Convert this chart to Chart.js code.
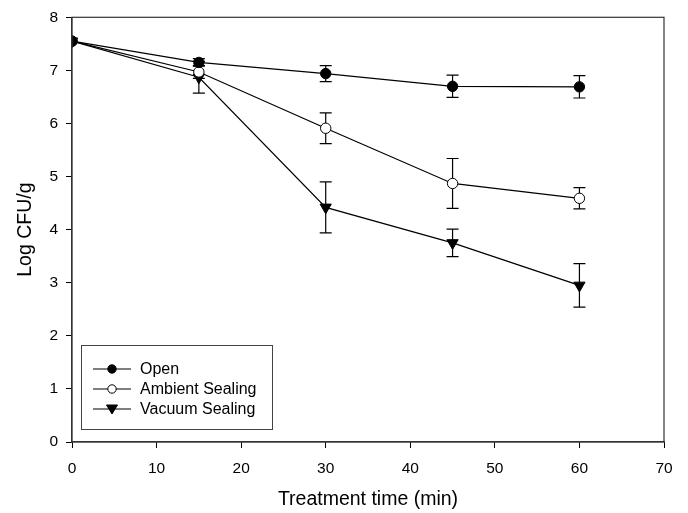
<!DOCTYPE html>
<html>
<head>
<meta charset="utf-8">
<script src="https://cdn.jsdelivr.net/npm/chart.js@4/dist/chart.umd.min.js"></script>
<style>
  html, body { margin: 0; padding: 0; background: #fff; }
  #wrap { width: 688px; height: 513px; }
</style>
</head>
<body>
<div id="wrap"><canvas id="c" width="688" height="513"></canvas></div>
<script>
const times = [0, 15, 30, 45, 60];
const openVals = [7.55, 7.15, 6.94, 6.70, 6.69];
const openErr = [0, 0.07, 0.15, 0.21, 0.21];
const ambientVals = [7.55, 6.97, 5.91, 4.87, 4.59];
const ambientErr = [0, 0.12, 0.29, 0.47, 0.20];
const vacuumVals = [7.55, 6.87, 4.42, 3.75, 2.95];
const vacuumErr = [0, 0.30, 0.48, 0.26, 0.41];
const seriesNames = ['Open', 'Ambient Sealing', 'Vacuum Sealing'];
const xTicks = [0, 10, 20, 30, 40, 50, 60, 70];
const yTicks = [0, 1, 2, 3, 4, 5, 6, 7, 8];

const FONT = "'Liberation Sans', Arial, sans-serif";

function pts(vals) { return times.map((t, i) => ({ x: t, y: vals[i] })); }

const errorBars = {
  id: 'errorBars',
  beforeDatasetsDraw(chart) {
    const ctx = chart.ctx;
    const xs = chart.scales.x, ys = chart.scales.y;
    ctx.save();
    ctx.strokeStyle = '#000';
    ctx.lineWidth = 1.2;
    chart.data.datasets.forEach(ds => {
      ds.data.forEach((p, i) => {
        const e = ds.errors[i];
        if (!e) return;
        const px = xs.getPixelForValue(p.x);
        const top = ys.getPixelForValue(p.y + e);
        const bot = ys.getPixelForValue(p.y - e);
        const cap = 6;
        ctx.beginPath();
        ctx.moveTo(px, top); ctx.lineTo(px, bot);
        ctx.moveTo(px - cap, top); ctx.lineTo(px + cap, top);
        ctx.moveTo(px - cap, bot); ctx.lineTo(px + cap, bot);
        ctx.stroke();
      });
    });
    ctx.restore();
  }
};

const frameAndLegend = {
  id: 'frameAndLegend',
  afterDraw(chart) {
    const ctx = chart.ctx;
    const a = chart.chartArea;
    ctx.save();
    ctx.strokeStyle = '#333';
    ctx.lineWidth = 1.2;
    ctx.strokeRect(a.left, a.top, a.right - a.left, a.bottom - a.top);

    // legend box
    const bx = 81, by = 345, bw = 191, bh = 84;
    ctx.strokeStyle = '#444';
    ctx.lineWidth = 1;
    ctx.fillStyle = '#fff';
    ctx.fillRect(bx, by, bw, bh);
    ctx.strokeRect(bx + 0.5, by + 0.5, bw, bh);
    const rows = [369, 389, 409];
    ctx.font = '16px ' + FONT;
    ctx.textBaseline = 'middle';
    chart.data.datasets.forEach((ds, i) => {
      const y = rows[i];
      ctx.strokeStyle = '#000';
      ctx.lineWidth = 1.2;
      ctx.beginPath();
      ctx.moveTo(93, y); ctx.lineTo(131, y);
      ctx.stroke();
      ctx.fillStyle = ds.pointBackgroundColor;
      ctx.strokeStyle = '#000';
      ctx.lineWidth = 1;
      ctx.beginPath();
      if (ds.pointStyle === 'circle') {
        ctx.arc(112, y, 4.2, 0, Math.PI * 2);
      } else {
        ctx.moveTo(106.5, y - 4);
        ctx.lineTo(117.5, y - 4);
        ctx.lineTo(112, y + 5);
        ctx.closePath();
      }
      ctx.fill();
      ctx.stroke();
      ctx.fillStyle = '#000';
      ctx.textAlign = 'left';
      ctx.fillText(ds.label, 140, y + 1);
    });
    ctx.restore();
  }
};

new Chart(document.getElementById('c'), {
  type: 'line',
  data: {
    datasets: [
      {
        label: seriesNames[0], data: pts(openVals), errors: openErr,
        borderColor: '#000', borderWidth: 1.2,
        pointStyle: 'circle', pointRadius: 5.2,
        pointBackgroundColor: '#000', pointBorderColor: '#000', pointBorderWidth: 1
      },
      {
        label: seriesNames[1], data: pts(ambientVals), errors: ambientErr,
        borderColor: '#000', borderWidth: 1.2,
        pointStyle: 'circle', pointRadius: 5.2,
        pointBackgroundColor: '#fff', pointBorderColor: '#000', pointBorderWidth: 1
      },
      {
        label: seriesNames[2], data: pts(vacuumVals), errors: vacuumErr,
        borderColor: '#000', borderWidth: 1.2,
        pointStyle: 'triangle', pointRotation: 180, pointRadius: 6.5,
        pointBackgroundColor: '#000', pointBorderColor: '#000', pointBorderWidth: 1
      }
    ]
  },
  options: {
    responsive: false,
    animation: false,
    devicePixelRatio: 1,
    layout: { padding: { top: 16, right: 24, left: 0, bottom: 0 } },
    plugins: { legend: { display: false }, tooltip: { enabled: false } },
    elements: { line: { tension: 0 } },
    scales: {
      x: {
        type: 'linear', min: 0, max: 70,
        afterBuildTicks: s => { s.ticks = xTicks.map(v => ({ value: v })); },
        afterFit: s => { s.height = 71; },
        grid: { drawOnChartArea: false, tickLength: 6, color: '#000', tickColor: '#000' },
        border: { color: '#333', width: 1.2 },
        ticks: { color: '#000', font: { family: FONT, size: 15.5 }, padding: 11, maxRotation: 0 },
        title: { display: true, text: 'Treatment time (min)', color: '#000',
                 font: { family: FONT, size: 19.5 }, padding: { top: 0, bottom: 1.5 } }
      },
      y: {
        type: 'linear', min: 0, max: 8,
        afterBuildTicks: s => { s.ticks = yTicks.map(v => ({ value: v })); },
        afterFit: s => { s.width = 72; },
        grid: { drawOnChartArea: false, tickLength: 6, color: '#000', tickColor: '#000' },
        border: { color: '#333', width: 1.2 },
        ticks: { color: '#000', font: { family: FONT, size: 15.5 }, padding: 8 },
        title: { display: true, text: 'Log CFU/g', color: '#000',
                 font: { family: FONT, size: 19.5 }, padding: { top: 14, bottom: 0 } }
      }
    }
  },
  plugins: [errorBars, frameAndLegend]
});
</script>
</body>
</html>
